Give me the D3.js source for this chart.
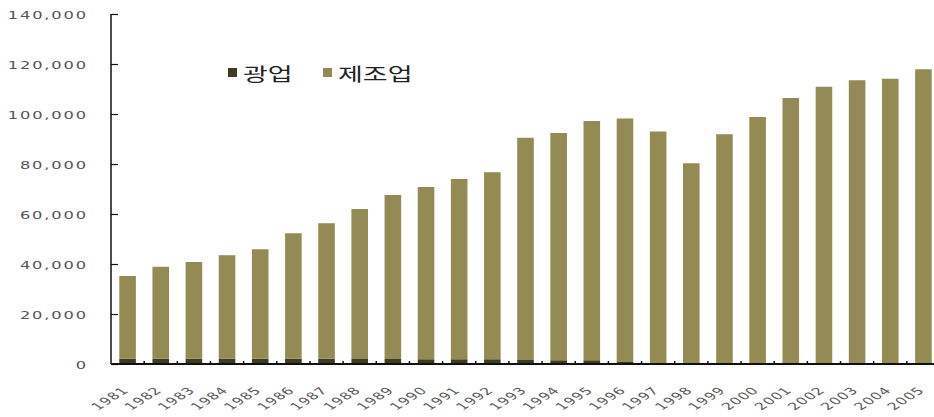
<!DOCTYPE html>
<html>
<head>
<meta charset="utf-8">
<script src="https://cdn.jsdelivr.net/npm/d3@7"></script>
<style>
  html, body { margin: 0; padding: 0; background: #fff; }
  svg { display: block; }
</style>
</head>
<body>
<svg id="chart" width="934" height="417"></svg>
<script>
// Years on the category axis
const years = ["1981","1982","1983","1984","1985","1986","1987","1988","1989","1990",
               "1991","1992","1993","1994","1995","1996","1997","1998","1999","2000",
               "2001","2002","2003","2004","2005"];
// 광업 (mining), bottom of each stack
const mining = [2100,2100,2100,2100,2100,2100,2100,2000,2000,1900,
                1900,1900,1600,1500,1500,800,400,400,400,400,
                400,400,400,400,400];
// 제조업 (manufacturing), stacked on top
const manufacturing = [33100,36800,38700,41400,43800,50200,54200,60000,65600,68900,
                       72100,74800,88900,90900,95700,97400,92600,79900,91500,98400,
                       106000,110500,113100,113700,117500];
const seriesNames = ["광업", "제조업"];
const seriesColors = ["#3e3b22", "#948a54"];
const yTicks = [0, 20000, 40000, 60000, 80000, 100000, 120000, 140000];

const svg = d3.select("#chart");
const x0 = 111, x1 = 940, yTop = 14, yBase = 364;

const x = d3.scaleBand().domain(years).range([x0, x1]).paddingInner(0.5).paddingOuter(0.25);
const y = d3.scaleLinear().domain([0, 140000]).range([yBase, yTop]);

const rows = years.map((yr, i) => ({ year: yr, "광업": mining[i], "제조업": manufacturing[i] }));
const stacked = d3.stack().keys(seriesNames)(rows);

// stacked bars
svg.append("g").selectAll("g").data(stacked).join("g")
  .attr("fill", (d, i) => seriesColors[i])
  .selectAll("rect").data(d => d).join("rect")
  .attr("x", d => x(d.data.year))
  .attr("width", x.bandwidth())
  .attr("y", d => y(d[1]))
  .attr("height", d => y(d[0]) - y(d[1]));

// value axis: inward ticks, stretched gray labels
const yAxis = svg.append("g").attr("transform", `translate(${x0},0)`)
  .call(d3.axisLeft(y).tickValues(yTicks).tickSize(-7).tickFormat(d3.format(",")));
yAxis.select(".domain").attr("stroke", "#111").attr("stroke-width", 1.5).attr("d", `M0,${yTop}V${yBase}`);
yAxis.selectAll(".tick line").attr("stroke", "#111").attr("stroke-width", 1.2);
yAxis.selectAll(".tick text")
  .attr("x", null).attr("dy", null)
  .attr("transform", "translate(-23,1) scale(1.55,1)")
  .attr("dominant-baseline", "central")
  .attr("text-anchor", "end")
  .style("font-family", "'DejaVu Sans', sans-serif")
  .style("font-size", "10.5px")
  .style("letter-spacing", "1.2px")
  .attr("fill", "#555");

// category axis: short inward ticks at band edges
const edges = years.map(yr => x(yr) - x.step() * x.paddingInner() / 2).slice(1);
const xAxis = svg.append("g");
xAxis.append("line")
  .attr("x1", x0).attr("x2", 934).attr("y1", yBase).attr("y2", yBase)
  .attr("stroke", "#111").attr("stroke-width", 1.8);
xAxis.selectAll("line.tk").data(edges).join("line").attr("class", "tk")
  .attr("x1", d => d).attr("x2", d => d)
  .attr("y1", yBase).attr("y2", yBase - 3)
  .attr("stroke", "#111").attr("stroke-width", 1.5);
xAxis.selectAll("text").data(years).join("text")
  .attr("transform", d => `translate(${x(d) + x.bandwidth() / 2 + 2},${yBase + 27}) scale(1.6,1) rotate(-45)`)
  .attr("text-anchor", "end")
  .style("font-family", "'DejaVu Sans', sans-serif")
  .style("font-size", "10px")
  .style("letter-spacing", "0.6px")
  .attr("fill", "#5a5a5a")
  .text(d => d);

// legend
const legendX = [228, 323];
const legend = svg.append("g").selectAll("g").data(seriesNames).join("g")
  .attr("transform", (d, i) => `translate(${legendX[i]},68)`);
legend.append("rect").attr("width", 9).attr("height", 9)
  .attr("fill", (d, i) => seriesColors[i]);
legend.append("text")
  .attr("transform", "translate(15,5.5) scale(1.5,1)")
  .attr("dominant-baseline", "central")
  .style("font-family", "'Noto Sans CJK KR', sans-serif")
  .style("font-size", "18px")
  .attr("fill", "#222")
  .text(d => d);
</script>
</body>
</html>
